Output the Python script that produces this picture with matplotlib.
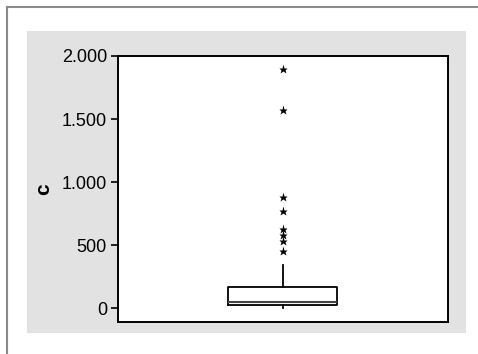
import matplotlib.pyplot as plt
from matplotlib.lines import Line2D
from matplotlib.patches import Rectangle
from matplotlib.ticker import FuncFormatter

plt.rcParams['font.family'] = ['Liberation Sans', 'DejaVu Sans']

# box summary
q1, median, q3 = 26, 52, 169
whisker_low, whisker_high = 2, 341
outliers = [1896, 1571, 882, 771, 631, 581, 531, 456]
yticks = [0, 500, 1000, 1500, 2000]

fig = plt.figure(figsize=(4.78, 3.54), dpi=100)
W, H = 478, 354

# grey panel behind the plot
fig.add_artist(Rectangle((27 / W, 1 - 333 / H), (466 - 27) / W, (333 - 31) / H,
                         transform=fig.transFigure, facecolor='#e2e2e2',
                         edgecolor='none', zorder=0))
# frame lines top and left
fig.add_artist(Line2D([7 / W, 1], [1 - 6.5 / H, 1 - 6.5 / H], transform=fig.transFigure,
                      color='#8a8a8a', lw=1.5))
fig.add_artist(Line2D([7 / W, 7 / W], [0, 1 - 6.5 / H], transform=fig.transFigure,
                      color='#8a8a8a', lw=1.5))

ax = fig.add_axes([118 / W, 1 - 321.5 / H, (447.5 - 118) / W, (321.5 - 56) / H])
ax.set_facecolor('white')

stats = [{
    'q1': q1, 'med': median, 'q3': q3,
    'whislo': whisker_low, 'whishi': whisker_high,
    'fliers': outliers,
}]
ax.bxp(stats, positions=[1], widths=0.33, showcaps=False,
       boxprops=dict(color='black', lw=1.3),
       whiskerprops=dict(color='black', lw=1.3),
       medianprops=dict(color='#444444', lw=1.5),
       flierprops=dict(marker='*', markersize=6.5, markerfacecolor='black',
                       markeredgecolor='none', linestyle='none'))

ax.set_xlim(0.5, 1.5)
ax.set_ylim(-103, 2000)
ax.set_xticks([])
ax.set_yticks(yticks)
ax.yaxis.set_major_formatter(FuncFormatter(lambda v, p: f"{int(v):,}".replace(',', '.')))
ax.tick_params(axis='y', direction='out', length=5, width=1.2, labelsize=13, pad=3)
for s in ax.spines.values():
    s.set_linewidth(1.4)
ax.set_ylabel('c', fontsize=15, fontweight='bold', labelpad=6)

fig.savefig('out.png', dpi=100)
